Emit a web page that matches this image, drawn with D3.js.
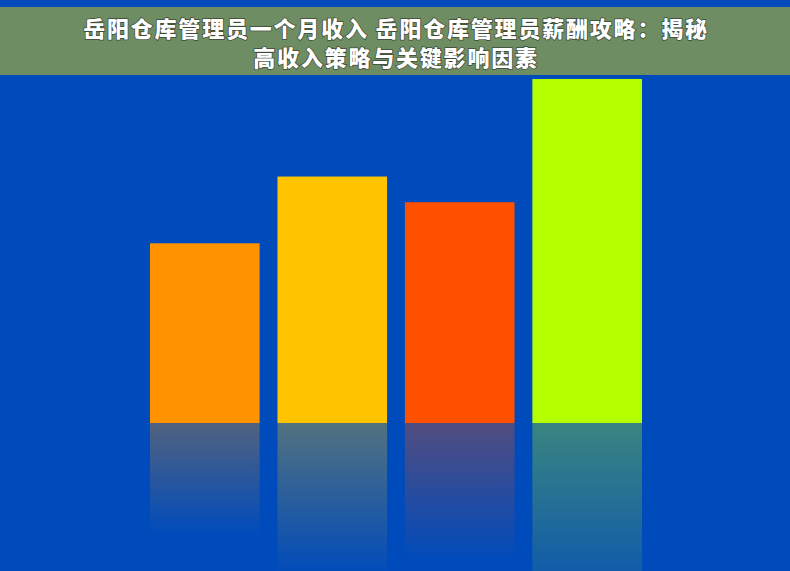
<!DOCTYPE html>
<html>
<head>
<meta charset="utf-8">
<script src="https://cdn.jsdelivr.net/npm/d3@7"></script>
<style>
  body { margin: 0; background: #004bbb; }
  svg { display: block; }
</style>
</head>
<body>
<div id="chart"></div>
<script>
var svgWidth = 790;
var svgHeight = 571;

// data (relative heights)
var categories = ["A", "B", "C", "D"];
var values = [3500, 4800, 4300, 6700];
var colors = ["#ff9400", "#ffc300", "#ff5000", "#b4ff00"];
var titleLines = ["岳阳仓库管理员一个月收入 岳阳仓库管理员薪酬攻略：揭秘", "高收入策略与关键影响因素"];

var baseline = 423;
var plotTop = 79;

var svg = d3.select("#chart")
  .append("svg")
  .attr("width", svgWidth)
  .attr("height", svgHeight);

svg.append("rect")
  .attr("width", svgWidth)
  .attr("height", svgHeight)
  .attr("fill", "#004bbb");

var xScale = d3.scaleBand()
  .domain(categories)
  .range([150, 642])
  .paddingInner(0.14)
  .paddingOuter(0);

var yScale = d3.scaleLinear()
  .domain([0, d3.max(values)])
  .range([baseline, plotTop]);

var data = categories.map(function(c, i) {
  return { cat: c, value: values[i], color: colors[i] };
});

// fading gradients for reflections
var defs = svg.append("defs");
data.forEach(function(d, i) {
  var g = defs.append("linearGradient")
    .attr("id", "refl" + i)
    .attr("x1", 0).attr("y1", 0).attr("x2", 0).attr("y2", 1);
  g.append("stop").attr("offset", "0%").attr("stop-color", d.color).attr("stop-opacity", 0.32);
  g.append("stop").attr("offset", "62%").attr("stop-color", d.color).attr("stop-opacity", 0);
});

var chartGroup = svg.append("g");

chartGroup.selectAll("rect.refl")
  .data(data)
  .enter()
  .append("rect")
  .attr("class", "refl")
  .attr("x", d => xScale(d.cat))
  .attr("y", baseline)
  .attr("width", xScale.bandwidth())
  .attr("height", d => baseline - yScale(d.value))
  .attr("fill", (d, i) => "url(#refl" + i + ")");

chartGroup.selectAll("rect.bar")
  .data(data)
  .enter()
  .append("rect")
  .attr("class", "bar")
  .attr("x", d => xScale(d.cat))
  .attr("y", d => yScale(d.value))
  .attr("width", xScale.bandwidth())
  .attr("height", d => baseline - yScale(d.value))
  .attr("fill", d => d.color);

// title band
svg.append("rect")
  .attr("x", 0)
  .attr("y", 7)
  .attr("width", svgWidth)
  .attr("height", 68)
  .attr("fill", "#6f8d63");

svg.selectAll("text.title")
  .data(titleLines)
  .enter()
  .append("text")
  .attr("class", "title")
  .attr("x", 396)
  .attr("y", (d, i) => 37 + i * 29)
  .attr("text-anchor", "middle")
  .attr("font-family", "Noto Sans CJK SC")
  .attr("font-weight", 900)
  .attr("font-size", 22)
  .attr("letter-spacing", "1.8px")
  .attr("fill", "#ffffff")
  .attr("stroke", "#3d4a36")
  .attr("stroke-width", 1.5)
  .attr("paint-order", "stroke")
  .text(d => d);
</script>
</body>
</html>
